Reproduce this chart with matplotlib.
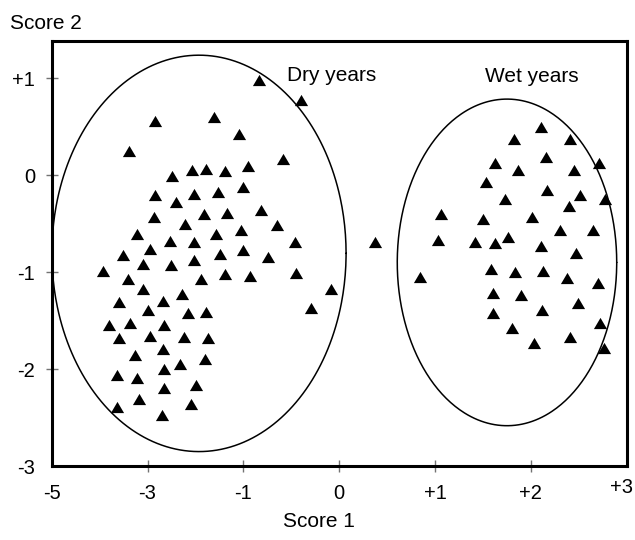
#!/usr/bin/env python
# -*- coding: utf-8 -*-
"""Ordination plot of dry and wet years (Score 1 vs Score 2)."""

import matplotlib

matplotlib.use("Agg")
import matplotlib.pyplot as plt
import numpy as np

plt.rcParams["font.family"] = ["Liberation Sans", "DejaVu Sans"]

# Dry years (left cluster) and the lone year between the groups
DRY_SCORE1 = [
    -2.84, -1.61, -1.10, -3.38, -2.48, -2.07, -1.77, -1.38, -2.84, -2.41,
    -2.04, -1.52, -1.00, -2.87, -2.21, -1.83, -1.35, -1.05, -3.23, -2.53,
    -2.04, -1.57, -2.95, -3.51, -3.09, -2.51, -2.02, -1.49, -1.00, -3.92,
    -3.40, -1.88, -1.38, -3.09, -2.29, -3.59, -2.67, -3.00, -2.15, -1.77,
    -3.80, -3.37, -2.65, -3.59, -2.95, -2.24, -1.74, -3.26, -2.67, -2.32,
    -1.79, -3.64, -3.21, -2.65, -1.99, -2.65, -3.17, -2.10, -3.64, -2.70,
    -0.84, -0.40, -0.59, -0.95, -0.82, -0.65, -0.46, -0.74, -0.93, -0.45,
    -0.09, -0.29, 0.37,
]
DRY_SCORE2 = [
    0.56, 0.60, 0.43, 0.25, -0.01, 0.05, 0.06, 0.04, -0.20, -0.28,
    -0.19, -0.17, -0.12, -0.43, -0.50, -0.40, -0.39, -0.56, -0.61, -0.68,
    -0.69, -0.61, -0.76, -0.82, -0.92, -0.93, -0.87, -0.81, -0.77, -0.99,
    -1.07, -1.07, -1.02, -1.17, -1.23, -1.31, -1.30, -1.39, -1.42, -1.41,
    -1.54, -1.52, -1.54, -1.68, -1.66, -1.67, -1.68, -1.85, -1.79, -1.95,
    -1.90, -2.06, -2.09, -2.00, -2.16, -2.20, -2.31, -2.36, -2.39, -2.47,
    0.98, 0.78, 0.17, 0.10, -0.36, -0.51, -0.69, -0.84, -1.04, -1.01,
    -1.17, -1.37, -0.69,
]

# Wet years (right cluster)
WET_SCORE1 = [
    2.11, 1.82, 2.41, 2.16, 1.63, 2.71, 1.87, 2.45, 1.53, 2.17,
    2.51, 2.77, 1.73, 2.40, 1.06, 1.50, 2.01, 2.30, 2.65, 1.03,
    1.42, 1.63, 1.76, 2.11, 2.47, 0.84, 1.58, 1.83, 2.13, 2.38,
    2.70, 1.61, 1.90, 2.49, 1.61, 2.12, 2.72, 1.80, 2.41, 2.03,
    2.76,
]
WET_SCORE2 = [
    0.50, 0.37, 0.37, 0.19, 0.13, 0.13, 0.05, 0.05, -0.07, -0.15,
    -0.20, -0.25, -0.25, -0.32, -0.40, -0.45, -0.43, -0.56, -0.56, -0.67,
    -0.69, -0.70, -0.64, -0.73, -0.80, -1.05, -0.97, -1.00, -0.99, -1.06,
    -1.11, -1.21, -1.24, -1.32, -1.42, -1.39, -1.52, -1.58, -1.67, -1.73,
    -1.78,
]

X_TICKS = [-5, -3, -1, 0, 1, 2, 3]
X_TICK_LABELS = ["-5", "-3", "-1", "0", "+1", "+2", "+3"]
Y_TICKS = [-3, -2, -1, 0, 1]
Y_TICK_LABELS = ["-3", "-2", "-1", "0", "+1"]

GROUP_LABELS = ["Dry years", "Wet years"]


def forward(x):
    # the axis below -1 is drawn at half scale
    x = np.asarray(x, dtype=float)
    return np.where(x < -1, (x - 1) / 2.0, x)


def inverse(t):
    t = np.asarray(t, dtype=float)
    return np.where(t < -1, 2.0 * t + 1, t)


def draw_ellipse(ax, center, width, height):
    """Ellipse defined in the (scaled) display space of the x axis."""
    theta = np.linspace(0, 2 * np.pi, 400)
    t = center[0] + width / 2 * np.cos(theta)
    y = center[1] + height / 2 * np.sin(theta)
    ax.plot(inverse(t), y, color="black", linewidth=1.1,
            solid_capstyle="round", solid_joinstyle="round")


def main():
    fig = plt.figure(figsize=(6.35, 5.4), dpi=100)
    ax = fig.add_axes([0.0814, 0.137, 0.9055, 0.787])
    ax.set_xscale("function", functions=(forward, inverse))

    tri = [(0, 0.85), (-1, -0.85), (1, -0.85)]
    style = dict(marker=tri, markersize=9.5, color="black",
                 linestyle="none", markeredgewidth=0)
    ax.plot(DRY_SCORE1, DRY_SCORE2, **style)
    ax.plot(WET_SCORE1, WET_SCORE2, **style)

    draw_ellipse(ax, (-1.463, -0.806), 3.07, 4.09)
    draw_ellipse(ax, (1.751, -0.899), 2.29, 3.37)

    ax.text(-0.08, 1.03, GROUP_LABELS[0], fontsize=15, ha="center", va="center")
    ax.text(2.01, 1.02, GROUP_LABELS[1], fontsize=15, ha="center", va="center")

    ax.set_xlim(-5, 3)
    ax.set_ylim(-3, 1.385)
    ax.set_xticks(X_TICKS)
    # the last label sits just inside the figure edge, drawn separately below
    ax.set_xticklabels(X_TICK_LABELS[:-1] + [""])
    ax.set_yticks(Y_TICKS)
    ax.set_yticklabels(Y_TICK_LABELS)
    ax.minorticks_off()
    ax.tick_params(axis="both", direction="inout", length=9, width=1,
                   color="0.45", labelsize=14.5)
    ax.tick_params(axis="x", pad=8.5)
    ax.tick_params(axis="y", pad=7.5)

    # no tick marks in the frame corners
    for tick in (ax.xaxis.get_major_ticks()[0], ax.xaxis.get_major_ticks()[-1],
                 ax.yaxis.get_major_ticks()[0]):
        tick.tick1line.set_visible(False)

    for spine in ax.spines.values():
        spine.set_linewidth(2.2)
        spine.set_color("black")

    fig.text(0.978, 0.0963, X_TICK_LABELS[-1], fontsize=14.5,
             ha="center", va="center")
    fig.text(0.0157, 0.957, "Score 2", fontsize=15, ha="left", va="center")
    fig.text(0.502, 0.035, "Score 1", fontsize=15, ha="center", va="center")

    fig.savefig("out.png", dpi=100)
    plt.close(fig)


if __name__ == "__main__":
    main()
